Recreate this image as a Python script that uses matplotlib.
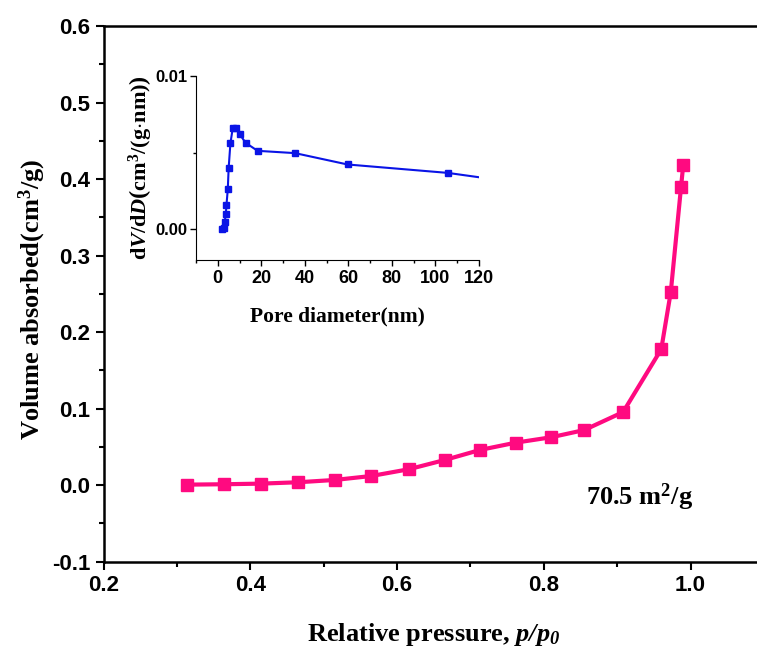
import matplotlib
matplotlib.use('Agg')
import matplotlib.pyplot as plt
from matplotlib.ticker import MultipleLocator

plt.rcParams['mathtext.fontset'] = 'custom'
plt.rcParams['mathtext.rm'] = 'Liberation Serif:bold'
plt.rcParams['mathtext.bf'] = 'Liberation Serif:bold'
plt.rcParams['mathtext.it'] = 'Liberation Serif:italic:bold'
plt.rcParams['mathtext.bfit'] = 'Liberation Serif:italic:bold'

# isotherm data (relative pressure vs adsorbed volume)
p_rel = [0.314, 0.364, 0.414, 0.465, 0.515, 0.565, 0.616, 0.665, 0.713, 0.762,
         0.810, 0.855, 0.908, 0.960, 0.973, 0.987, 0.990]
vol = [0.0007, 0.0012, 0.002, 0.0038, 0.0068, 0.012, 0.0208, 0.0329, 0.046, 0.0556,
       0.0626, 0.072, 0.0955, 0.1776, 0.2525, 0.390, 0.419]

# pore size distribution (inset)
pore_d = [2.0, 2.7, 3.2, 3.7, 4.0, 4.6, 5.0, 5.8, 6.9, 8.2, 10.1, 12.8, 18.3, 35.5,
          59.6, 105.7, 135.0]
dvdd = [0.00004, 0.0001, 0.0005, 0.001, 0.0016, 0.0026, 0.0040, 0.0056, 0.00662,
        0.00664, 0.0062, 0.00564, 0.00512, 0.00497, 0.00423, 0.00368, 0.0031]

main_xt = [0.2, 0.4, 0.6, 0.8, 1.0]
main_yt = [-0.1, 0.0, 0.1, 0.2, 0.3, 0.4, 0.5, 0.6]
ins_xt = [0, 20, 40, 60, 80, 100, 120]
ins_yt = [0.0, 0.01]

W, H = 757, 652
fig = plt.figure(figsize=(W/100, H/100), dpi=100)

tickfont = {'family': 'Liberation Sans', 'weight': 'bold'}
serif = 'Liberation Serif'

# main axes
l, r, t, b = 103.5, 764, 26, 561.7
ax = fig.add_axes([l/W, 1-b/H, (r-l)/W, (b-t)/H])
ax.plot(p_rel, vol, color='#ff0a80', lw=3, marker='s', ms=9)
ax.set_xlim(0.2, 1.1)
ax.set_ylim(-0.1, 0.6)
ax.set_xticks(main_xt)
ax.set_xticklabels(['%.1f' % v for v in main_xt], fontdict=tickfont, fontsize=16)
ax.set_yticks(main_yt)
ax.set_yticklabels(['%.1f' % v for v in main_yt], fontdict=tickfont, fontsize=16)
ax.xaxis.set_minor_locator(MultipleLocator(0.1))
ax.yaxis.set_minor_locator(MultipleLocator(0.05))
ax.tick_params(which='major', length=6, width=1.5)
ax.tick_params(which='minor', length=3.5, width=1.5)
for s in ax.spines.values():
    s.set_linewidth(1.8)
ax.set_xlabel(r'Relative pressure, $\mathbfit{p/p_0}$', family=serif, weight='bold',
              fontsize=19, labelpad=18)
ax.set_ylabel(r'Volume absorbed(cm$^\mathbf{3}$/g)', family=serif, weight='bold',
              fontsize=19)
ax.yaxis.set_label_coords(-0.084, 0.49)
ax.text(640/W, 1-497/H, r'70.5 m$^\mathbf{2}$/g', family=serif, weight='bold',
        fontsize=19, ha='center', va='center', transform=fig.transFigure)

# inset
il, ir, it_, ib = 196, 479, 76, 260
ins = fig.add_axes([il/W, 1-ib/H, (ir-il)/W, (ib-it_)/H])
ins.plot(pore_d, dvdd, color='#0a14e6', lw=1.5, marker='s', ms=5)
ins.set_xlim(-10, 120)
ins.set_ylim(-0.002, 0.01)
ins.spines['top'].set_visible(False)
ins.spines['right'].set_visible(False)
ins.set_xticks(ins_xt)
ins.set_xticklabels([str(v) for v in ins_xt], fontdict=tickfont, fontsize=13)
ins.set_yticks(ins_yt)
ins.set_yticklabels(['%.2f' % v for v in ins_yt], fontdict=tickfont, fontsize=12)
ins.xaxis.set_minor_locator(MultipleLocator(10))
ins.yaxis.set_minor_locator(MultipleLocator(0.005))
ins.tick_params(which='major', length=4, width=1)
ins.tick_params(which='minor', length=2.5, width=1)
ins.tick_params(axis='y', pad=2)
ins.set_xlabel('Pore diameter(nm)', family=serif, weight='bold', fontsize=15.5, labelpad=14)
ins.set_ylabel(r'd$\mathbfit{V}$/d$\mathbfit{D}$$\left(\mathbf{cm^3/(g{\cdot}nm)}\right)$',
               family=serif, weight='bold', fontsize=16)
ins.yaxis.set_label_coords(-0.15, 0.5)

fig.savefig('out.png', dpi=100)
